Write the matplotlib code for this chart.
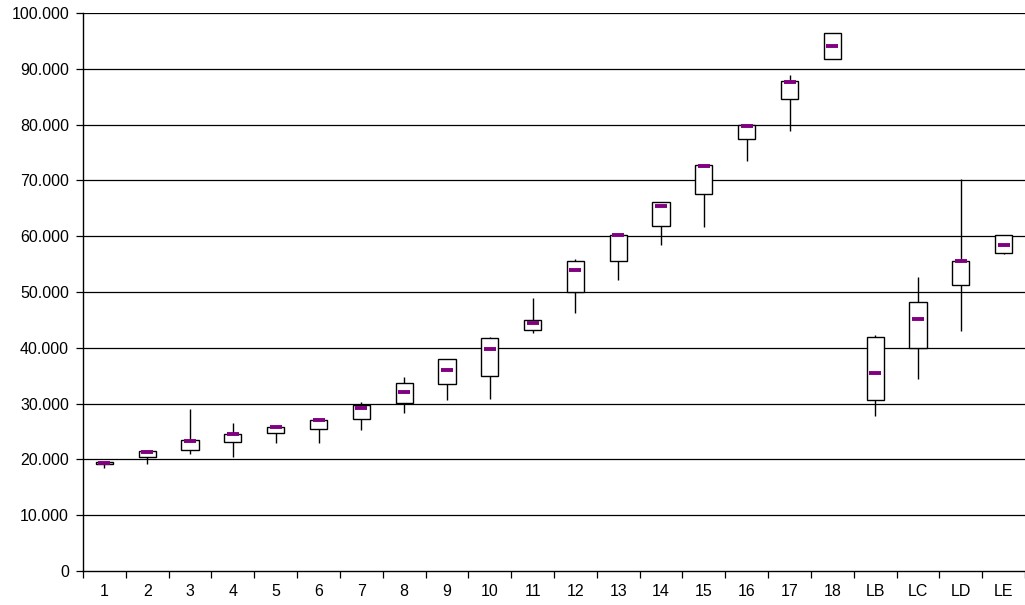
import numpy as np
import matplotlib
matplotlib.use('Agg')
import matplotlib.pyplot as plt

plt.rcParams['font.family'] = ['Liberation Sans', 'DejaVu Sans']

labels = ['1', '2', '3', '4', '5', '6', '7', '8', '9', '10', '11', '12', '13',
          '14', '15', '16', '17', '18', 'LB', 'LC', 'LD', 'LE']
whisker_low = [18.4, 19.2, 20.9, 20.4, 22.9, 22.9, 25.3, 28.4, 30.6, 30.8, 42.6,
               46.2, 52.2, 58.4, 61.6, 73.5, 78.9, 91.7, 27.7, 34.4, 43.1, 56.8]
box_low = [19.25, 20.4, 21.7, 23.05, 24.7, 25.4, 27.2, 30.1, 33.6, 34.9, 43.2,
           50.0, 55.5, 61.8, 67.6, 77.4, 84.6, 91.7, 30.6, 40.0, 51.3, 56.9]
box_high = [19.6, 21.5, 23.4, 24.55, 25.75, 27.05, 29.8, 33.7, 38.05, 41.8, 44.9,
            55.5, 60.2, 66.2, 72.7, 79.9, 87.8, 96.5, 41.9, 48.2, 55.5, 60.2]
whisker_high = [19.6, 21.5, 29.0, 26.5, 26.0, 27.3, 30.2, 34.7, 38.05, 41.9, 48.9,
                55.9, 60.2, 66.2, 72.7, 79.9, 88.8, 96.5, 42.3, 52.6, 70.2, 60.2]
marker_val = [19.4, 21.4, 23.3, 24.5, 25.8, 27.0, 29.3, 32.1, 36.1, 39.8, 44.5,
              53.9, 60.2, 65.5, 72.6, 79.8, 87.7, 94.1, 35.4, 45.2, 55.5, 58.5]
yticks = np.arange(0, 101, 10)
ytick_labels = ['0'] + [f'{v}.000' for v in yticks[1:]]

fig = plt.figure(figsize=(10.25, 6.05), dpi=100)
ax = fig.add_axes([83 / 1025, 1 - 571 / 605, 1 - 83 / 1025, (571 - 13) / 605])

x = np.arange(len(labels))

for v in yticks[1:]:
    ax.axhline(v, color='black', lw=0.9, zorder=1)

ax.vlines(x, whisker_low, whisker_high, color='black', lw=1, zorder=2)
ax.bar(x, np.array(box_high) - np.array(box_low), bottom=box_low, width=0.4,
       color='white', edgecolor='black', lw=1, zorder=3)
ax.plot(x, marker_val, ls='none', marker='_', color='#800080', ms=8.5, mew=2.8, zorder=4)

ax.set_xlim(-0.5, len(labels) - 0.5)
ax.set_ylim(0, 100)
ax.set_yticks(yticks)
ax.set_yticklabels(ytick_labels, fontsize=11.5)
ax.set_xticks(np.arange(-0.5, len(labels), 1))
ax.set_xticklabels([])
ax.set_xticks(x, minor=True)
ax.set_xticklabels(labels, minor=True, fontsize=11.5)
ax.tick_params(axis='x', which='major', length=5, width=0.9, direction='out')
ax.tick_params(axis='x', which='minor', length=0, pad=9)
ax.tick_params(axis='y', length=5, width=0.9, direction='out', pad=5)

for s in ['top', 'right']:
    ax.spines[s].set_visible(False)
ax.spines['left'].set_linewidth(1)
ax.spines['bottom'].set_linewidth(1)

fig.savefig('out.png', dpi=100)
